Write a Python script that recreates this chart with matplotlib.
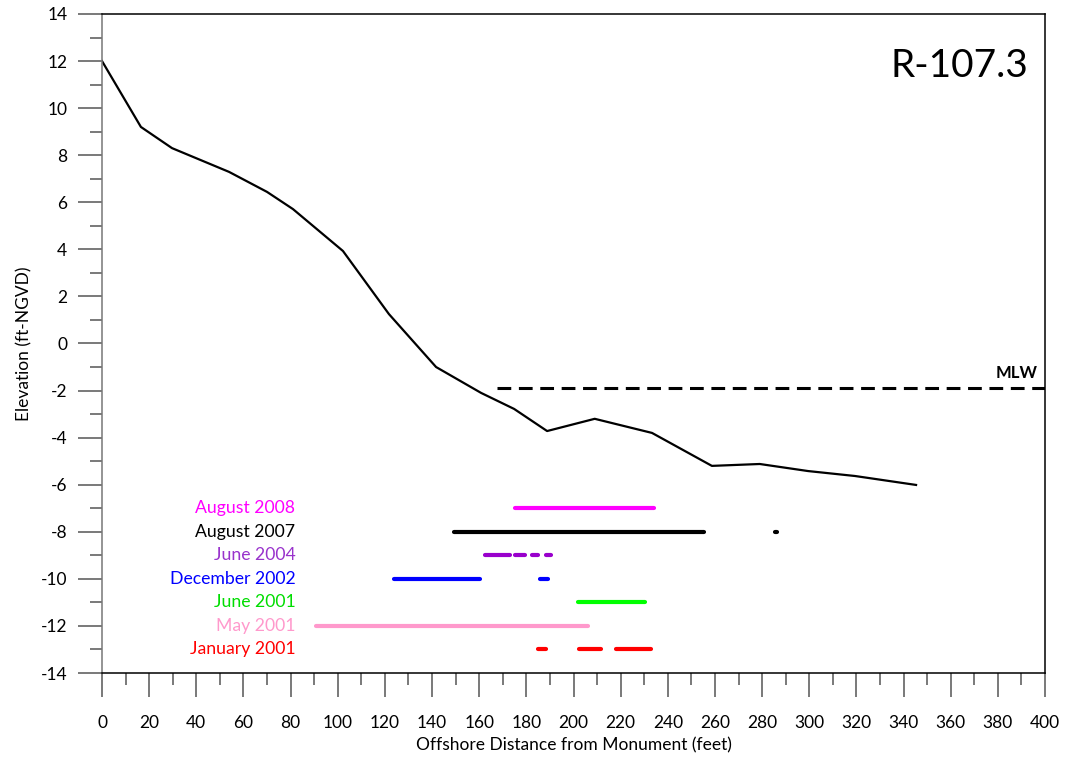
import matplotlib
matplotlib.use('Agg')
import matplotlib.pyplot as plt
from matplotlib.ticker import MultipleLocator

plt.rcParams['font.family'] = ['Lato', 'DejaVu Sans']
plt.rcParams['axes.unicode_minus'] = False

# profile
dist = [0, 16.5, 29.7, 53.9, 70, 81, 102.2, 121.7, 141.7, 160.8, 174.8, 188.8, 209, 233.3, 258.7, 279, 299.5, 319.4, 345.3]
elev = [12, 9.2, 8.3, 7.29, 6.44, 5.71, 3.93, 1.25, -1.0, -2.1, -2.78, -3.72, -3.2, -3.8, -5.2, -5.12, -5.42, -5.63, -6.01]

mlw_x = [167.5, 400]
mlw_y = -1.9

# survey coverage segments
surveys = ['August 2008', 'August 2007', 'June 2004', 'December 2002', 'June 2001', 'May 2001', 'January 2001']
survey_y = [-7, -8, -9, -10, -11, -12, -13]
line_colors = ['#ff00ff', '#000000', '#9900cc', '#0000ff', '#00ff00', '#ff99cc', '#ff0000']
text_colors = ['#ff00ff', '#000000', '#9933cc', '#0000ff', '#00dd00', '#ff99cc', '#ff0000']
segments = [
    [(175, 234)],
    [(149.3, 255.4), (285.3, 286.3)],
    [(162.5, 173), (175.2, 179.4), (182.3, 185), (188.3, 190.3)],
    [(124, 160.3), (185.8, 189.3)],
    [(202, 230.3)],
    [(90.8, 206.3)],
    [(185, 188.3), (202.4, 211.6), (218, 233)],
]

fig = plt.figure(figsize=(10.67, 7.59), dpi=100)
ax = fig.add_axes([0.0956, 0.1133, 0.9794 - 0.0956, 0.9816 - 0.1133])

ax.plot(dist, elev, color='black', linewidth=1.6)
ax.plot(mlw_x, [mlw_y, mlw_y], color='black', linewidth=2.2, linestyle=(0, (4.5, 2.5)))
ax.text(397, -1.6, 'MLW', fontsize=12, fontweight='bold', ha='right', va='bottom')

for name, y, lc, tc, segs in zip(surveys, survey_y, line_colors, text_colors, segments):
    for x0, x1 in segs:
        ax.plot([x0, x1], [y, y], color=lc, linewidth=3, solid_capstyle='round')
    ax.text(82, y, name, color=tc, fontsize=12.7, ha='right', va='center')

ax.text(393, 11.8, 'R-107.3', fontsize=28, ha='right', va='center')

ax.set_xlim(0, 400)
ax.set_ylim(-14, 14)
ax.xaxis.set_major_locator(MultipleLocator(20))
ax.xaxis.set_minor_locator(MultipleLocator(10))
ax.yaxis.set_major_locator(MultipleLocator(2))
ax.yaxis.set_minor_locator(MultipleLocator(1))
ax.tick_params(which='major', direction='out', length=17, width=1.1, color='#555555', labelsize=12.5, pad=8)
ax.tick_params(axis='x', which='major', pad=13)
ax.tick_params(which='minor', direction='out', length=8.5, width=1.1, color='#555555')
for s in ax.spines.values():
    s.set_linewidth(1.1)
ax.spines['left'].set_color('#777777')

ax.set_xlabel('Offshore Distance from Monument (feet)', fontsize=12.5, labelpad=5)
ax.set_ylabel('Elevation (ft-NGVD)', fontsize=12.5, labelpad=6)

plt.savefig('out.png', dpi=100)
